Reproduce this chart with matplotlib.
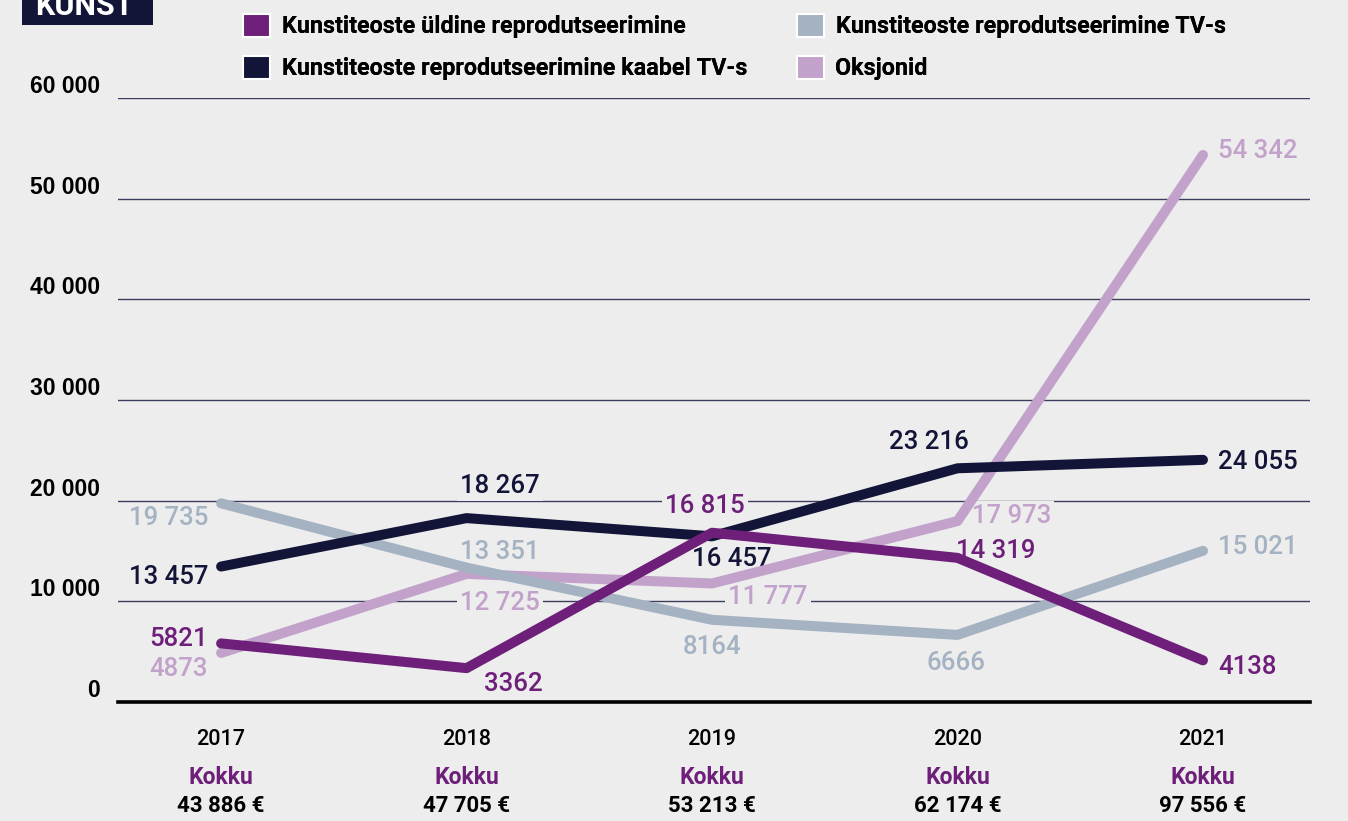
import matplotlib.pyplot as plt
from matplotlib.patches import Patch, Rectangle

# --- data ---
years = ["2017", "2018", "2019", "2020", "2021"]
totals = ["43 886 €", "47 705 €", "53 213 €", "62 174 €", "97 556 €"]

series_names = [
    "Kunstiteoste üldine reprodutseerimine",
    "Kunstiteoste reprodutseerimine kaabel TV-s",
    "Kunstiteoste reprodutseerimine TV-s",
    "Oksjonid",
]
yldine = [5821, 3362, 16815, 14319, 4138]
kaabel = [13457, 18267, 16457, 23216, 24055]
tv = [19735, 13351, 8164, 6666, 15021]
oksjonid = [4873, 12725, 11777, 17973, 54342]

y_ticks = [0, 10000, 20000, 30000, 40000, 50000, 60000]

# --- style ---
BG = "#ededed"
PURPLE = "#6d1f79"
NAVY = "#131538"
GREY = "#a4b2c2"
PINK = "#c2a2cb"
GRID = "#3b3d5e"

W, H = 1348, 821

# label offsets (pixels) and alignment per series, per year
offsets = {
    "yldine": [(-13, 4, "right"), (47, -16, "center"), (-7, 27, "center"), (38, 7, "center"), (15, -7, "left")],
    "kaabel": [(-13, -10, "right"), (33, 32, "center"), (20, -23, "center"), (-29, 26, "center"), (15, -2, "left")],
    "tv": [(-13, -15, "right"), (33, 16, "center"), (0, -27, "center"), (-2, -28, "center"), (15, 4, "left")],
    "oksjonid": [(-13, -16, "right"), (33, -29, "center"), (56, -14, "center"), (54, 5, "center"), (15, 4, "left")],
}


def fmt(v):
    # thousands separated by a space, numbers under 10 000 kept whole
    if v < 10000:
        return str(v)
    return f"{v:,}".replace(",", " ")


def main():
    fig = plt.figure(figsize=(W / 100, H / 100), dpi=100, facecolor=BG)
    ax = fig.add_axes([118 / W, 1 - 702 / H, (1310 - 118) / W, (702 - 98) / H])
    ax.set_facecolor(BG)

    x = list(range(len(years)))
    lines = [
        ("oksjonid", oksjonid, PINK, 3),
        ("tv", tv, GREY, 4),
        ("kaabel", kaabel, NAVY, 5),
        ("yldine", yldine, PURPLE, 6),
    ]
    for key, vals, col, z in lines:
        ax.plot(x, vals, color=col, lw=7.2, solid_capstyle="round",
                solid_joinstyle="round", zorder=z, clip_on=False)
        for i, v in enumerate(vals):
            dx, dy, ha = offsets[key][i]
            ax.annotate(fmt(v), (i, v), xytext=(dx, dy), textcoords="offset pixels",
                        ha=ha, va="center", color=col, fontsize=18.5,
                        family="Roboto", weight="medium", zorder=2.5,
                        bbox=dict(boxstyle="square,pad=0.12", fc=BG, ec="none"))

    ax.set_xlim(-0.42, 4.436)
    ax.set_ylim(0, 60000)
    ax.set_yticks(y_ticks)
    ax.set_yticklabels([fmt(t) if t >= 10000 else str(t) for t in y_ticks],
                       family="Liberation Sans", weight="bold", fontsize=16.5)
    for lab in ax.get_yticklabels():
        lab.set_va("bottom")
    ax.tick_params(axis="y", length=0, pad=13)
    ax.set_xticks([])
    ax.yaxis.grid(True, color=GRID, lw=1)
    ax.set_axisbelow(True)
    for s in ["left", "right", "top"]:
        ax.spines[s].set_visible(False)
    ax.spines["bottom"].set_color("black")
    ax.spines["bottom"].set_linewidth(2.6)
    ax.spines["bottom"].set_zorder(7)

    # year, "Kokku" and totals under the axis
    tr = ax.get_xaxis_transform()
    for i, (yr, tot) in enumerate(zip(years, totals)):
        ax.text(i, -0.0629, yr, transform=tr, ha="center", va="center",
                fontsize=15.5, family="Roboto", weight="medium", color="black")
        ax.text(i, -0.1258, "Kokku", transform=tr, ha="center", va="center",
                fontsize=16.5, family="Roboto", weight="bold", color=PURPLE)
        ax.text(i, -0.172, tot, transform=tr, ha="center", va="center",
                fontsize=16, family="Roboto", weight="bold", color="black")

    # legend, two columns placed separately
    cols = {series_names[0]: PURPLE, series_names[1]: NAVY,
            series_names[2]: GREY, series_names[3]: PINK}
    groups = [(series_names[:2], 243), (series_names[2:], 797)]
    for names, left in groups:
        handles = [Patch(facecolor=cols[n], edgecolor="white", lw=1.5, label=n) for n in names]
        leg = fig.legend(handles=handles, loc="upper left",
                         bbox_to_anchor=(left / W, 1 - 14 / H), frameon=False,
                         borderpad=0, borderaxespad=0, handlelength=1.15,
                         handleheight=1.15, handletextpad=0.5, labelspacing=0.75,
                         prop=dict(family="Roboto", weight="bold", size=16.8))
        fig.add_artist(leg)

    # "KUNST" tag at the top left, cut off by the edge
    fig.add_artist(Rectangle((22 / W, 1 - 25 / H), 131 / W, 25 / H + 0.01,
                             transform=fig.transFigure, fc=NAVY, ec="none"))
    fig.text(35 / W, 1 - 15 / H, "KUNST", ha="left", va="baseline", color="white",
             fontsize=22, family="Roboto", weight="bold")

    fig.savefig("out.png", dpi=100, facecolor=BG)


if __name__ == "__main__":
    main()
